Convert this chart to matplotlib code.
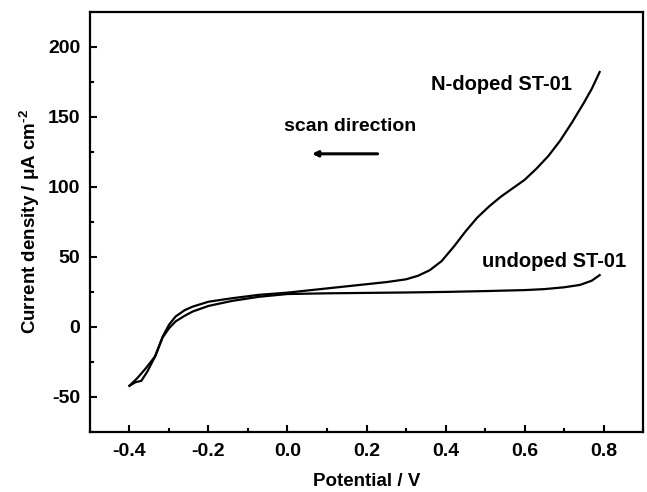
import numpy as np
import matplotlib.pyplot as plt
from matplotlib.ticker import MultipleLocator

plt.rcParams['font.family'] = ['Liberation Sans', 'DejaVu Sans']
plt.rcParams['font.weight'] = 'bold'
plt.rcParams['axes.unicode_minus'] = False
plt.rcParams['mathtext.fontset'] = 'custom'
plt.rcParams['mathtext.rm'] = 'Liberation Sans:bold'
plt.rcParams['mathtext.bf'] = 'Liberation Sans:bold'
plt.rcParams['mathtext.default'] = 'bf'

# N-doped ST-01 (potential V, current uA/cm2)
v_n = [-0.400, -0.385, -0.370, -0.355, -0.335, -0.316, -0.300, -0.283, -0.260, -0.240,
       -0.200, -0.140, -0.073, 0.000, 0.050, 0.100, 0.150, 0.200, 0.250, 0.300,
       0.330, 0.360, 0.390, 0.420, 0.450, 0.480, 0.510, 0.540, 0.570, 0.600,
       0.630, 0.660, 0.690, 0.720, 0.750, 0.770, 0.790]
i_n = [-42.0, -39.5, -38.5, -32.0, -21.0, -7.0, 1.5, 7.5, 12.0, 14.5,
       18.0, 20.5, 22.9, 24.5, 26.0, 27.5, 29.0, 30.5, 32.0, 34.0,
       36.5, 40.5, 47.0, 57.0, 68.0, 78.0, 86.0, 93.0, 99.0, 105.0,
       113.0, 122.0, 133.0, 146.0, 160.0, 170.0, 182.0]

# undoped ST-01
v_u = [-0.400, -0.380, -0.360, -0.335, -0.316, -0.300, -0.283, -0.260, -0.240, -0.200,
       -0.140, -0.073, 0.000, 0.100, 0.200, 0.300, 0.400, 0.500, 0.600, 0.650,
       0.700, 0.740, 0.770, 0.790]
i_u = [-42.0, -36.5, -30.0, -21.0, -7.5, -1.0, 4.0, 8.0, 11.0, 15.0,
       18.6, 21.5, 23.5, 24.0, 24.3, 24.6, 25.0, 25.6, 26.3, 27.0,
       28.3, 30.0, 33.0, 37.0]

x_ticks = [-0.4, -0.2, 0.0, 0.2, 0.4, 0.6, 0.8]
x_labels = ['-0.4', '-0.2', '0.0', '0.2', '0.4', '0.6', '0.8']
y_ticks = [-50, 0, 50, 100, 150, 200]

fig = plt.figure(figsize=(6.47, 4.92), dpi=100)
ax = fig.add_axes([0.139, 0.122, 0.855, 0.854])

ax.plot(v_n, i_n, color='black', lw=1.6)
ax.plot(v_u, i_u, color='black', lw=1.6)

ax.set_xlim(-0.5, 0.9)
ax.set_ylim(-75, 225)
ax.set_xticks(x_ticks)
ax.set_xticklabels(x_labels)
ax.set_yticks(y_ticks)
ax.xaxis.set_minor_locator(MultipleLocator(0.1))
ax.yaxis.set_minor_locator(MultipleLocator(25))
ax.tick_params(which='both', direction='in', width=1.5, labelsize=14)
ax.tick_params(axis='x', pad=8)
ax.tick_params(axis='y', pad=7)
ax.tick_params(which='major', length=5)
ax.tick_params(which='minor', length=3)
for s in ax.spines.values():
    s.set_linewidth(1.6)

ax.set_xlabel('Potential / V', fontsize=13.5, fontweight='bold', labelpad=9)
ax.set_ylabel(r'Current density / $\mathregular{\mu}$A cm$^{\text{-}2}$',
              fontsize=13.5, fontweight='bold', labelpad=4)

ax.text(0.362, 173, 'N-doped ST-01', fontsize=14.5, fontweight='bold', va='center')
ax.text(0.493, 46.4, 'undoped ST-01', fontsize=14.5, fontweight='bold', va='center')
ax.text(-0.009, 143, 'scan direction', fontsize=14, fontweight='bold', va='center')
ax.annotate('', xy=(0.055, 123.6), xytext=(0.235, 123.6),
            arrowprops=dict(arrowstyle='-|>', color='black', lw=2.2,
                            mutation_scale=8))

fig.savefig('out.png', dpi=100)
